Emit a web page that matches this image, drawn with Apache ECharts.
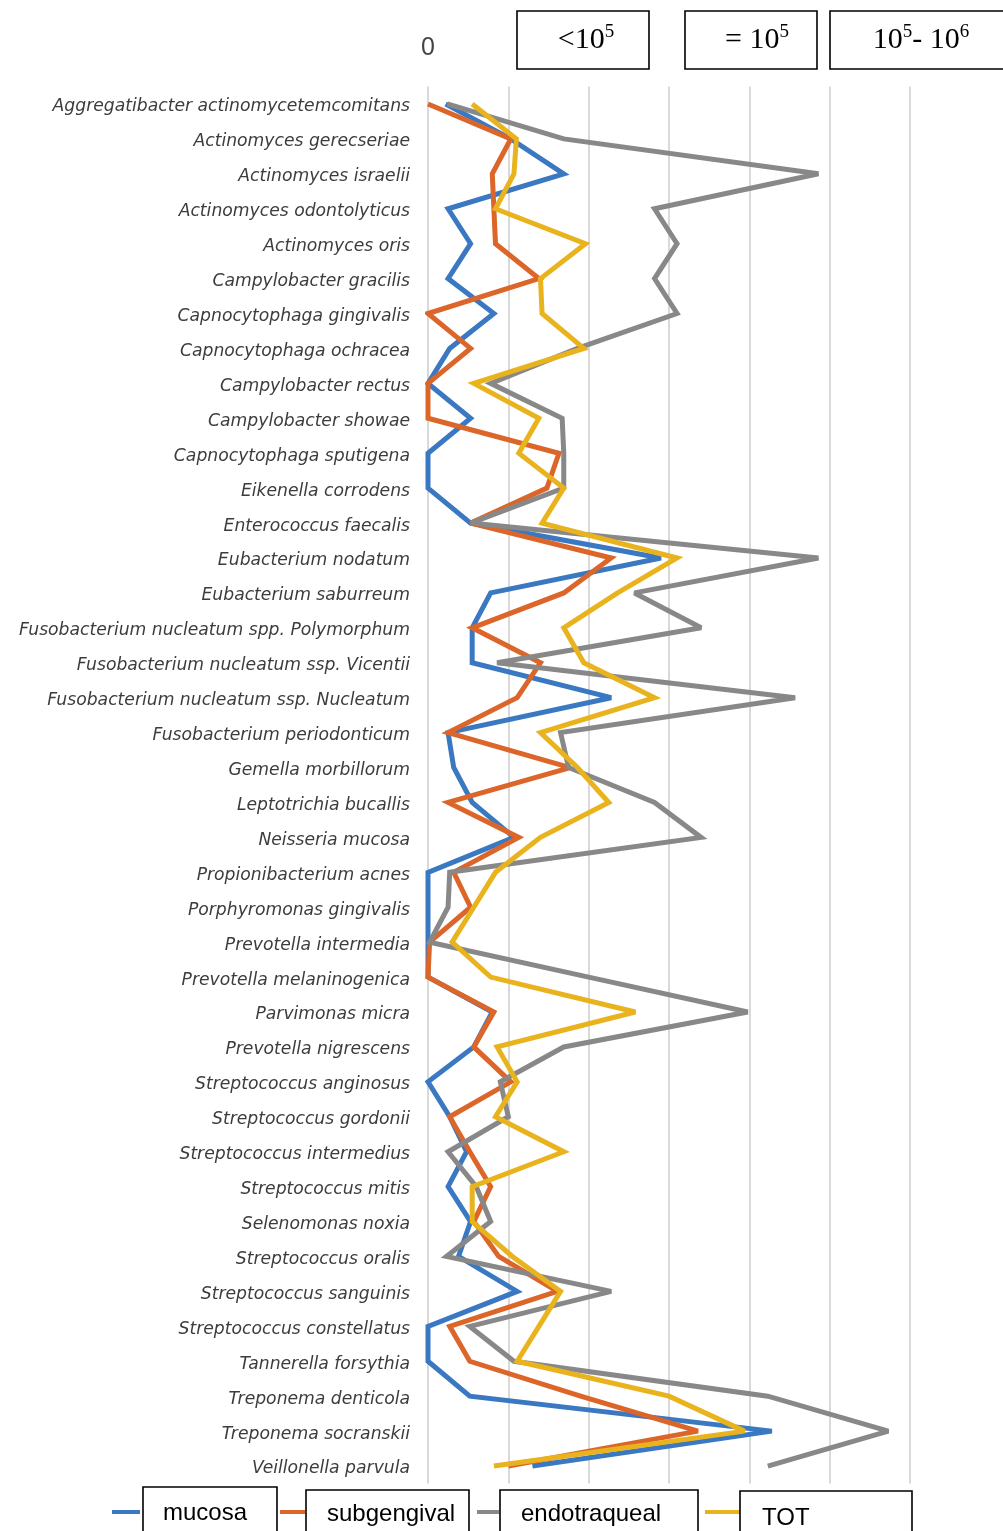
<!DOCTYPE html>
<html>
<head>
<meta charset="utf-8">
<script src="https://cdn.jsdelivr.net/npm/echarts@6/dist/echarts.min.js"></script>
<style>
  html, body { margin: 0; padding: 0; background: #ffffff; }
  #chart { width: 1003px; height: 1531px; }
</style>
</head>
<body>
<div id="chart"></div>
<script>
// Species, listed top to bottom
const species = [
  'Aggregatibacter actinomycetemcomitans',
  'Actinomyces gerecseriae',
  'Actinomyces israelii',
  'Actinomyces odontolyticus',
  'Actinomyces oris',
  'Campylobacter gracilis',
  'Capnocytophaga gingivalis',
  'Capnocytophaga ochracea',
  'Campylobacter rectus',
  'Campylobacter showae',
  'Capnocytophaga sputigena',
  'Eikenella corrodens',
  'Enterococcus faecalis',
  'Eubacterium nodatum',
  'Eubacterium saburreum',
  'Fusobacterium nucleatum spp. Polymorphum',
  'Fusobacterium nucleatum ssp. Vicentii',
  'Fusobacterium nucleatum ssp. Nucleatum',
  'Fusobacterium periodonticum',
  'Gemella morbillorum',
  'Leptotrichia bucallis',
  'Neisseria mucosa',
  'Propionibacterium acnes',
  'Porphyromonas gingivalis',
  'Prevotella intermedia',
  'Prevotella melaninogenica',
  'Parvimonas micra',
  'Prevotella nigrescens',
  'Streptococcus anginosus',
  'Streptococcus gordonii',
  'Streptococcus intermedius',
  'Streptococcus mitis',
  'Selenomonas noxia',
  'Streptococcus oralis',
  'Streptococcus sanguinis',
  'Streptococcus constellatus',
  'Tannerella forsythia',
  'Treponema denticola',
  'Treponema socranskii',
  'Veillonella parvula'
];

// Counts per sampling site (one value per species)
const mucosa = [0.22, 1.03, 1.69, 0.25, 0.53, 0.25, 0.82, 0.27, 0, 0.53,
  0, 0, 0.53, 2.9, 0.78, 0.55, 0.55, 2.28, 0.25, 0.32,
  0.55, 1.07, 0, 0, 0, 0, 0.8, 0.57, 0, 0.27,
  0.48, 0.25, 0.53, 0.38, 1.11, 0, 0, 0.52, 4.28, 1.3];

const subgengival = [0, 1.03, 0.8, 0.82, 0.84, 1.38, 0, 0.53, 0, 0,
  1.63, 1.48, 0.53, 2.28, 1.69, 0.55, 1.4, 1.11, 0.25, 1.77,
  0.25, 1.13, 0.32, 0.53, 0.02, 0, 0.82, 0.57, 1.03, 0.27,
  0.52, 0.78, 0.57, 0.88, 1.61, 0.27, 0.52, 1.9, 3.36, 1.0];

const endotraqueal = [0.24, 1.69, 4.86, 2.82, 3.1, 2.82, 3.1, 1.86, 0.78, 1.67,
  1.69, 1.69, 0.53, 4.86, 2.57, 3.4, 0.86, 4.57, 1.65, 1.75,
  2.82, 3.4, 0.27, 0.25, 0.02, 2.0, 3.98, 1.69, 0.9, 1.0,
  0.25, 0.6, 0.78, 0.23, 2.28, 0.52, 1.07, 4.23, 5.73, 4.23];

const tot = [0.55, 1.1, 1.07, 0.84, 1.96, 1.4, 1.42, 1.94, 0.57, 1.38,
  1.13, 1.69, 1.42, 3.1, 2.36, 1.69, 1.94, 2.82, 1.4, 1.86,
  2.25, 1.4, 0.84, 0.57, 0.3, 0.78, 2.58, 0.86, 1.11, 0.84,
  1.69, 0.55, 0.55, 1.05, 1.65, 1.38, 1.11, 3.0, 3.94, 0.82];

const seriesNames = ['mucosa', 'subgengival', 'endotraqueal', 'TOT'];
const seriesColors = ['#3a78c2', '#dc6529', '#888888', '#e9b31e'];
const seriesData = [mucosa, subgengival, endotraqueal, tot];

// Range header boxes above the value axis
const rangeBoxes = [
  { x: 517, w: 132, cx: 586, parts: ['<10', '5'] },
  { x: 685, w: 132, cx: 757, parts: ['= 10', '5'] },
  { x: 830, w: 185, cx: 921, parts: ['10', '5', '- 10', '6'] }
];

// Legend boxes at the bottom
const legendBoxes = [
  { icon: [112, 140], x: 143, y: 1487, w: 134, tx: 163, ty: 1513 },
  { icon: [280, 305], x: 306, y: 1490, w: 163, tx: 327, ty: 1514 },
  { icon: [477, 499], x: 500, y: 1490, w: 198, tx: 521, ty: 1514 },
  { icon: [705, 740], x: 740, y: 1491, w: 172, tx: 762, ty: 1518 }
];

const chart = echarts.init(document.getElementById('chart'), null, { renderer: 'canvas' });

const graphics = [];

rangeBoxes.forEach(function (b) {
  graphics.push({
    type: 'rect',
    shape: { x: b.x, y: 11, width: b.w, height: 58 },
    style: { fill: '#ffffff', stroke: '#000000', lineWidth: 1.6 },
    z: 10
  });
  let txt = '';
  b.parts.forEach(function (p, i) {
    txt += (i % 2 === 0) ? '{b|' + p + '}' : '{s|' + p + '}';
  });
  graphics.push({
    type: 'text',
    x: b.cx,
    y: 40,
    z: 11,
    style: {
      text: txt,
      align: 'center',
      verticalAlign: 'middle',
      rich: {
        b: { fontFamily: 'Liberation Serif', fontSize: 30, color: '#000', lineHeight: 34 },
        s: { fontFamily: 'Liberation Serif', fontSize: 19, color: '#000', lineHeight: 19, verticalAlign: 'top' }
      }
    }
  });
});

legendBoxes.forEach(function (b, i) {
  graphics.push({
    type: 'line',
    shape: { x1: b.icon[0], y1: 1512, x2: b.icon[1], y2: 1512 },
    style: { stroke: seriesColors[i], lineWidth: 4 },
    z: 10
  });
  graphics.push({
    type: 'rect',
    shape: { x: b.x, y: b.y, width: b.w, height: 70 },
    style: { fill: '#ffffff', stroke: '#000000', lineWidth: 1.6 },
    z: 10
  });
  graphics.push({
    type: 'text',
    x: b.tx,
    y: b.ty,
    z: 11,
    style: {
      text: seriesNames[i],
      fontFamily: 'Liberation Sans',
      fontSize: 24,
      fill: '#000000',
      align: 'left',
      verticalAlign: 'middle'
    }
  });
});

chart.setOption({
  animation: false,
  backgroundColor: '#ffffff',
  grid: { left: 428, right: 93, top: 86.5, bottom: 47.5, containLabel: false },
  xAxis: {
    type: 'value',
    position: 'top',
    min: 0,
    max: 6,
    interval: 1,
    axisLine: { show: false },
    axisTick: { show: false },
    splitLine: { show: true, lineStyle: { color: '#d9d9d9', width: 2 } },
    axisLabel: {
      formatter: function (v) { return v === 0 ? '0' : ''; },
      fontFamily: 'Liberation Sans',
      fontSize: 25,
      color: '#444444',
      margin: 26
    }
  },
  yAxis: {
    type: 'category',
    data: species,
    inverse: true,
    boundaryGap: true,
    axisLine: { show: false },
    axisTick: { show: false },
    splitLine: { show: false },
    axisLabel: {
      fontFamily: 'DejaVu Sans',
      fontStyle: 'italic',
      fontSize: 17.2,
      color: '#3c3c3c',
      margin: 18,
      verticalAlign: 'top',
      lineHeight: 6,
      interval: 0
    }
  },
  series: seriesNames.map(function (name, i) {
    return {
      name: name,
      type: 'line',
      data: seriesData[i],
      showSymbol: false,
      symbol: 'none',
      smooth: false,
      lineStyle: { color: seriesColors[i], width: 5, join: 'miter', miterLimit: 3 },
      itemStyle: { color: seriesColors[i] }
    };
  }),
  graphic: graphics
});
</script>
</body>
</html>
